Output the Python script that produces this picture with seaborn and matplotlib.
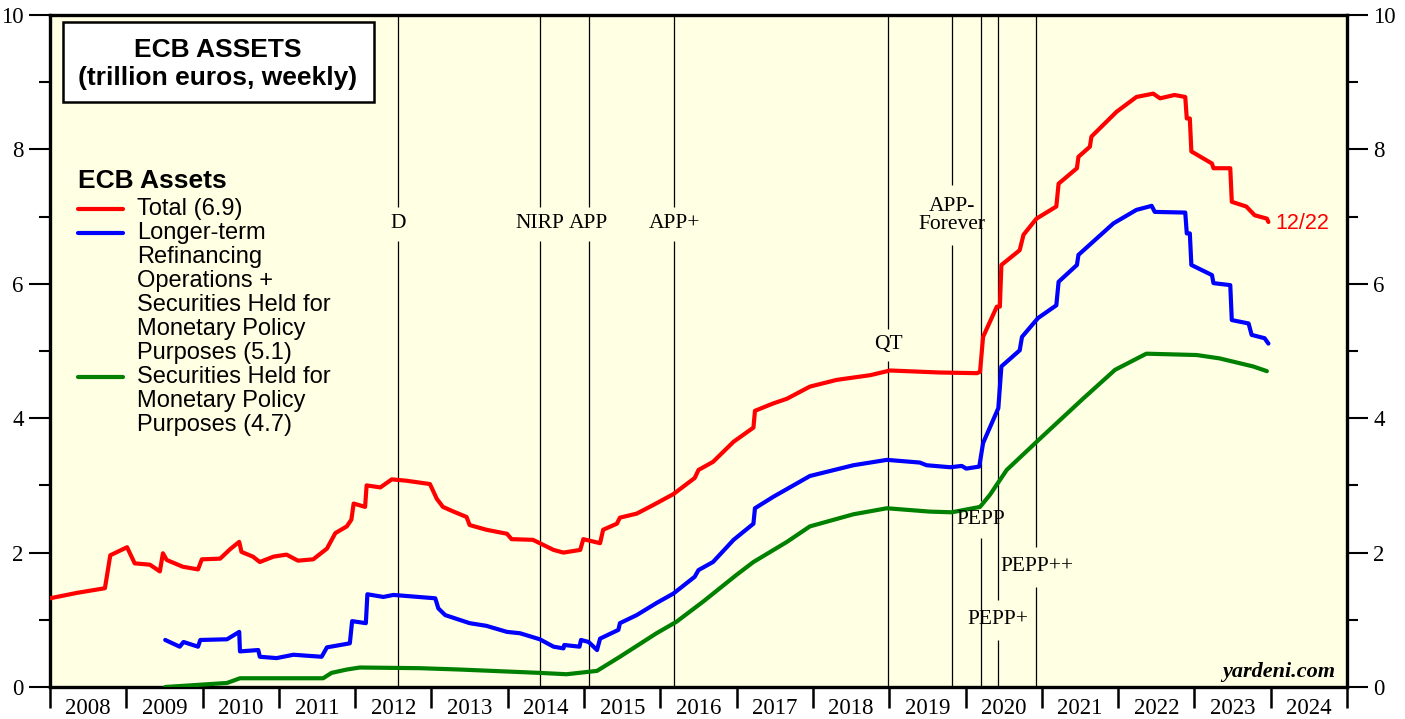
import numpy as np
import pandas as pd
import matplotlib
matplotlib.use("Agg")
import matplotlib.pyplot as plt
from matplotlib.patches import Rectangle
from matplotlib.lines import Line2D
from matplotlib.ticker import MultipleLocator, FixedLocator, NullFormatter, FixedFormatter
import seaborn as sns

# --- data (trillion euros, decimal years) ---
total_dates = [2008.00, 2008.35, 2008.72, 2008.79, 2009.01, 2009.11, 2009.31, 2009.44, 2009.48, 2009.53,
               2009.74, 2009.94, 2009.99, 2010.23, 2010.36, 2010.48, 2010.51, 2010.66, 2010.75, 2010.93,
               2011.10, 2011.25, 2011.45, 2011.63, 2011.74, 2011.89, 2011.95, 2011.98, 2012.13, 2012.15,
               2012.33, 2012.48, 2012.67, 2012.98, 2013.07, 2013.15, 2013.29, 2013.46, 2013.50, 2013.72,
               2013.99, 2014.05, 2014.33, 2014.42, 2014.60, 2014.73, 2014.95, 2014.99, 2015.21, 2015.25,
               2015.43, 2015.47, 2015.69, 2015.91, 2016.17, 2016.45, 2016.50, 2016.69, 2016.96, 2017.22,
               2017.24, 2017.48, 2017.66, 2017.96, 2018.31, 2018.75, 2019.01, 2019.66, 2020.15, 2020.19,
               2020.23, 2020.41, 2020.45, 2020.47, 2020.71, 2020.76, 2020.93, 2021.19, 2021.22, 2021.46,
               2021.48, 2021.63, 2021.65, 2021.98, 2022.24, 2022.46, 2022.55, 2022.74, 2022.88, 2022.90,
               2022.94, 2022.96, 2023.23, 2023.25, 2023.47, 2023.49, 2023.68, 2023.79, 2023.95, 2023.97]
total_vals = [1.32, 1.40, 1.47, 1.96, 2.08, 1.84, 1.82, 1.72, 1.99, 1.89,
              1.79, 1.75, 1.90, 1.91, 2.05, 2.16, 2.01, 1.94, 1.86, 1.94,
              1.97, 1.88, 1.90, 2.06, 2.29, 2.39, 2.49, 2.73, 2.68, 3.00,
              2.97, 3.09, 3.07, 3.02, 2.80, 2.68, 2.61, 2.53, 2.41, 2.34,
              2.28, 2.20, 2.19, 2.14, 2.04, 2.00, 2.04, 2.20, 2.14, 2.34,
              2.43, 2.52, 2.58, 2.71, 2.87, 3.11, 3.23, 3.35, 3.65, 3.86,
              4.11, 4.22, 4.29, 4.47, 4.57, 4.64, 4.71, 4.68, 4.67, 4.69,
              5.21, 5.66, 5.66, 6.28, 6.50, 6.73, 6.97, 7.15, 7.49, 7.72,
              7.89, 8.04, 8.19, 8.56, 8.78, 8.83, 8.76, 8.81, 8.78, 8.46,
              8.46, 7.97, 7.79, 7.72, 7.72, 7.22, 7.15, 7.02, 6.97, 6.92]

ltro_dates = [2009.51, 2009.70, 2009.75, 2009.94, 2009.97, 2010.32, 2010.48, 2010.49, 2010.73, 2010.75,
              2010.97, 2011.19, 2011.56, 2011.63, 2011.93, 2011.96, 2012.14, 2012.16, 2012.37, 2012.50,
              2013.05, 2013.09, 2013.18, 2013.50, 2013.72, 2013.99, 2014.16, 2014.42, 2014.60, 2014.73,
              2014.74, 2014.94, 2014.96, 2015.06, 2015.17, 2015.21, 2015.45, 2015.47, 2015.69, 2015.95,
              2016.17, 2016.45, 2016.50, 2016.69, 2016.96, 2017.22, 2017.24, 2017.48, 2017.96, 2018.53,
              2018.97, 2019.40, 2019.49, 2019.80, 2019.95, 2020.01, 2020.18, 2020.23, 2020.43, 2020.47,
              2020.71, 2020.74, 2020.95, 2021.19, 2021.22, 2021.46, 2021.48, 2021.94, 2022.24, 2022.44,
              2022.48, 2022.88, 2022.90, 2022.94, 2022.96, 2023.23, 2023.25, 2023.47, 2023.49, 2023.71,
              2023.75, 2023.92, 2023.97]
ltro_vals = [0.70, 0.60, 0.67, 0.60, 0.70, 0.71, 0.82, 0.53, 0.55, 0.45,
             0.43, 0.48, 0.45, 0.59, 0.65, 0.98, 0.95, 1.38, 1.34, 1.37,
             1.32, 1.17, 1.07, 0.95, 0.91, 0.82, 0.80, 0.71, 0.60, 0.575,
             0.625, 0.60, 0.70, 0.67, 0.55, 0.72, 0.85, 0.95, 1.07, 1.25,
             1.39, 1.64, 1.74, 1.86, 2.19, 2.43, 2.66, 2.83, 3.14, 3.30,
             3.38, 3.34, 3.30, 3.27, 3.29, 3.25, 3.28, 3.63, 4.15, 4.77,
             5.01, 5.21, 5.49, 5.68, 6.03, 6.28, 6.43, 6.90, 7.10, 7.16,
             7.07, 7.06, 6.75, 6.75, 6.28, 6.13, 6.01, 5.98, 5.46, 5.41,
             5.24, 5.19, 5.11]

sec_dates = [2009.51, 2010.32, 2010.49, 2011.58, 2011.69, 2011.89, 2012.06, 2012.85, 2013.37, 2014.42,
             2014.77, 2015.17, 2015.47, 2015.95, 2016.21, 2016.56, 2017.00, 2017.22, 2017.66, 2017.96,
             2018.53, 2018.97, 2019.53, 2019.82, 2020.19, 2020.32, 2020.54, 2020.98, 2021.54, 2021.96,
             2022.37, 2023.03, 2023.33, 2023.77, 2023.95]
sec_vals = [0.00, 0.06, 0.13, 0.13, 0.21, 0.26, 0.29, 0.28, 0.26, 0.21,
            0.19, 0.24, 0.45, 0.80, 0.97, 1.27, 1.67, 1.86, 2.16, 2.39,
            2.57, 2.66, 2.61, 2.60, 2.68, 2.86, 3.23, 3.70, 4.29, 4.72,
            4.96, 4.94, 4.89, 4.77, 4.70]

event_dates = [2012.56, 2014.42, 2015.06, 2016.18, 2018.99, 2019.82, 2020.20, 2020.42, 2020.93]
event_names = ["D", "NIRP", "APP", "APP+", "QT", "APP-\nForever", "PEPP", "PEPP+", "PEPP++"]

years = list(range(2008, 2025))
legend_labels = ["Total (6.9)",
                 "Longer-term\nRefinancing\nOperations +\nSecurities Held for\nMonetary Policy\nPurposes (5.1)",
                 "Securities Held for\nMonetary Policy\nPurposes (4.7)"]
last_date_label = "12/22"

# --- layout ---
event_label_y = [6.89, 6.89, 6.89, 6.89, 5.09, 7.02, 2.49, 1.0, 1.79]
event_gap = [0.26, 0.26, 0.26, 0.26, 0.24, 0.45, 0.28, 0.30, 0.30]

sns.set_style("ticks")
SANS = ["Liberation Sans", "DejaVu Sans"]
SERIF = ["Liberation Serif", "DejaVu Serif"]
plt.rcParams["font.family"] = SERIF
plt.rcParams["text.color"] = "black"
plt.rcParams["xtick.color"] = "black"
plt.rcParams["ytick.color"] = "black"
plt.rcParams["axes.edgecolor"] = "black"

fig = plt.figure(figsize=(14.05, 7.19), dpi=100)
ax = fig.add_axes([50 / 1405, 32 / 719, 1297 / 1405, 672 / 719])
ax.set_facecolor("#ffffe3")

colors = ["#ff0000", "#0000ff", "#008000"]
series = [(total_dates, total_vals), (ltro_dates, ltro_vals), (sec_dates, sec_vals)]
for (d, v), c in zip(series, colors):
    df = pd.DataFrame({"date": d, "value": v})
    sns.lineplot(data=df, x="date", y="value", ax=ax, color=c, lw=3.0,
                 sort=False, estimator=None, zorder=4)

# event lines with a gap around each label
for xd, name, ly, g in zip(event_dates, event_names, event_label_y, event_gap):
    ax.vlines(xd, 0, ly - g, color="black", lw=0.9, zorder=3)
    ax.vlines(xd, ly + g, 10, color="black", lw=0.9, zorder=3)
    ax.text(xd, ly, name, ha="center", va="center", fontsize=15.5, color="black",
            family=SERIF, linespacing=0.95, zorder=5)

ax.set_xlim(2008, 2025)
ax.set_ylim(0, 10)
ax.set_xlabel("")
ax.set_ylabel("")

# x axis: year boundaries as ticks, labels centred in each year
ax.xaxis.set_major_locator(FixedLocator(list(range(2008, 2026))))
ax.xaxis.set_major_formatter(NullFormatter())
ax.xaxis.set_minor_locator(FixedLocator([y + 0.5 for y in years]))
ax.xaxis.set_minor_formatter(FixedFormatter([str(y) for y in years]))
ax.tick_params(axis="x", which="major", length=15, width=1.8, direction="out", top=False)
ax.tick_params(axis="x", which="minor", length=0, pad=8, labelsize=16.5, top=False)

ax.yaxis.set_major_locator(MultipleLocator(2))
ax.yaxis.set_minor_locator(MultipleLocator(1))
ax.tick_params(axis="y", which="major", length=15, width=1.5, direction="out",
               left=True, right=True, labelleft=True, labelright=True, labelsize=16.5, pad=4)
ax.tick_params(axis="y", which="minor", length=8, width=1.5, direction="out",
               left=True, right=True)
for lab in ax.get_xticklabels(minor=True) + ax.get_yticklabels():
    lab.set_family(SERIF)

for s in ax.spines.values():
    s.set_linewidth(2.4)
    s.set_color("black")
    s.set_visible(True)

# title box
ax.add_patch(Rectangle((0.010, 0.8705), 0.2398, 0.1191, transform=ax.transAxes,
                       facecolor="white", edgecolor="black", lw=1.8, zorder=6))
ax.text(0.1295, 0.9474, "ECB ASSETS", transform=ax.transAxes, ha="center", va="center",
        fontsize=19, fontweight="bold", family=SANS, zorder=7)
ax.text(0.1295, 0.9057, "(trillion euros, weekly)", transform=ax.transAxes, ha="center",
        va="center", fontsize=19, fontweight="bold", family=SANS, zorder=7)

# legend, drawn by hand so the swatch lines up with the first text line
ax.text(0.0216, 0.753, "ECB Assets", transform=ax.transAxes, ha="left", va="center",
        fontsize=19, fontweight="bold", family=SANS, zorder=7)
pitch = 24 / 672
y0 = 0.7118
for lab, c in zip(legend_labels, colors):
    ax.add_line(Line2D([0.0216, 0.0563], [y0, y0], transform=ax.transAxes,
                       color=c, lw=3.0, zorder=7))
    for i, line in enumerate(lab.split("\n")):
        ax.text(0.0671, y0 - i * pitch, line, transform=ax.transAxes, ha="left",
                va="center", fontsize=17, family=SANS, zorder=7)
    y0 -= len(lab.split("\n")) * pitch

ax.text(total_dates[-1] + 0.09, total_vals[-1] - 0.02, last_date_label, color="#ff0000",
        ha="left", va="center", fontsize=15.5, family=SANS, zorder=7)

ax.text(0.9907, 0.0223, "yardeni.com", transform=ax.transAxes, ha="right", va="center",
        fontsize=16, fontweight="bold", fontstyle="italic", family=SERIF, zorder=7)

fig.savefig("out.png", dpi=100, facecolor="white")
